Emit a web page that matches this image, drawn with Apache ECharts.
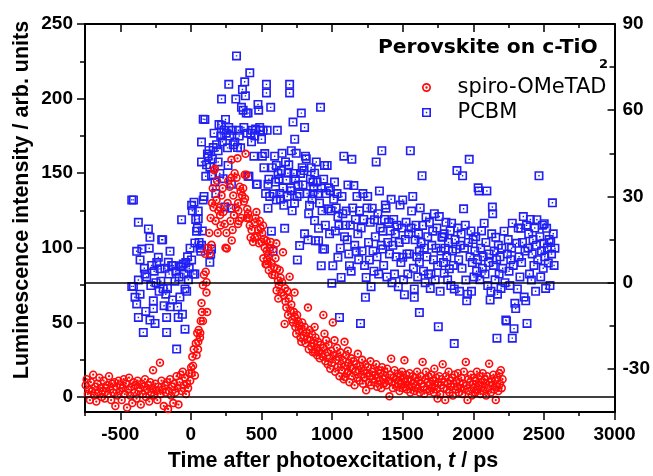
<!DOCTYPE html>
<html><head><meta charset="utf-8">
<script src="https://cdn.jsdelivr.net/npm/echarts@6/dist/echarts.min.js"></script>
<style>html,body{margin:0;padding:0;background:#fff}#c{width:653px;height:476px}</style>
</head><body><div id="c"></div>
<script>
// ---- data (x: ps, y: arb. units / right axis) ----
const xMajorTicks = [-500, 0, 500, 1000, 1500, 2000, 2500, 3000];
const xMinorTicks = [-750, -250, 250, 750, 1250, 1750, 2250, 2750];
const leftMajorTicks = [0, 50, 100, 150, 200, 250];
const leftMinorTicks = [25, 75, 125, 175, 225];
const rightMajorTicks = [-30, 0, 30, 60, 90];
const rightMinorTicks = [-15, 15, 45, 75];
const seriesNames = ['spiro-OMeTAD', 'PCBM'];

const spiroData = [
[-745,8],[-738,12],[-730,2],[-722,5],[-715,-2],[-708,10],[-700,4],[-692,15],[-685,1],[-678,7],[-670,-3],[-662,9],[-655,3],[-648,13],[-640,6],[-632,0],[-625,4],[-618,11],[-610,-1],[-602,6],[-595,8],[-588,2],[-580,14],[-572,5],[-565,-2],[-558,9],[-550,3],[-542,10],[-535,-6],[-528,7],[-520,1],[-512,11],[-505,4],[-498,8],[-490,-2],[-482,6],[-475,12],[-468,2],[-460,9],[-452,-7],[-445,5],[-438,13],[-430,1],[-422,7],[-415,-4],[-408,10],[-400,3],[-392,8],[-385,-1],[-378,11],[-370,4],[-362,6],[-355,-5],[-348,9],[-340,2],[-332,7],[-325,12],[-318,0],[-310,5],[-302,8],[-295,-3],[-288,10],[-280,3],[-272,6],[-268,18],[-260,1],[-252,9],[-245,4],[-238,-2],[-230,7],[-219,23],[-215,2],[-208,11],[-200,5],[-192,-6],[-185,8],[-178,3],[-170,10],[-162,-8],[-155,4],[-148,12],[-140,1],[-132,7],[-125,-4],[-118,9],[-110,3],[-102,14],[-95,6],[-88,-5],[-80,10],[-72,15],[-65,4],[-58,17],[-50,8],[-42,13],[-35,2],[-28,9],[-20,6],[-12,16],[-5,11],[2,20],[5,16],[10,27],[15,21],[20,32],[28,14.5],[35,36],[40,28],[45,43],[50,32],[52,37],[55,45],[64,40],[66,43],[70,51],[75,63],[78,57],[85,51],[85,75],[92,82],
[100,96],[105,84],[110,70],[111,77],[115,57],[120,100],[130,110],[134,96],[140,120],[146,102],[150,130],[155,140],[160,127],[165,152],[170,153],[175,118],[181,132],[185,145],[190,110],[195,125],[205,127],[207,122],[210,115],[217,135],[225,140],[230,124],[240,116],[245,100],[252,110],[254,99.5],[260,130],[265,145],[275,141],[280,118],[287,147],[289,105],[287,159],[295,112],[300,135],[305,122],[310,150],[318,127],[323,147],[330,160],[334,130],[336,125],[334,116],[340,118],[346,141],[352,138],[358,120],[363,135],[370,140],[375,131],[381,149],[383,133],[387,163],[393,149],[395,120],[399,126],[405,123],[411,120],[417,115],[423,107],[430,112],[440,104],[452,117],[454,107],[458,120],[464,124],[470,108],[476,112],[482,103],[488,118],[494,113],[500,104],[505,110],[511,115],[513,93],[517,106],[523,100],[529,89],[535,105],[537,98],[539,89],[541,92],[546,95],[552,85],[558,100],[564,104],[570,90],[576,82],[582,99],[588,87],[593,81.6],[599,93],[605,103],[607,71.5],[611,86],[617,78],[619,66],[623,75],[629,85],[635,80],[641,70],[646,77],[652,97],[658,68],[664,49],[666,73],[670,64],[676,60],[682,71],[688,55],[693,66],[699,80.7],[705,58],[711,62],[717,52],[723,50],[729,57],[734,70],[736,53.6],[740,47],[746,42.5],[752,55],[758,51],[764,45],[770,48],[776,40],[782,37],[788,50],[794,44],[800,41],[806,47],[812,36],[818,43],[824,39],[829,60],[835,32],[841,45],[847,38],[852,34],[858,42],[864,30],[870,36],[876,47],[878,30],[882,40],[888,33],[894,28],[900,37],[906,31],[912,26],[918,35],[929,29],[934,27],[938,55],[940,33],[946,42.5],
[952,24],[958,38],[964,30],[969,22],[975,35],[981,26],[987,19],[993,31],[999,23],[1005,50],[1010,28],[1017,38],[1022,17],[1028,25],[1034,33],[1040,20],[1046,27],[1052,14],[1058,30],[1064,22],[1070,18],[1076,25],[1082,12],[1088,37],[1090,13.4],[1094,21],[1100,28],[1106,16],[1111,31],[1113,17],[1117,23],[1123,10],[1129,20],[1135,26],[1141,14],[1147,19],[1153,24],[1159,8],[1165,17],[1171,22],[1177,13],[1182,29],[1188,18],[1194,11],[1200,21],[1206,15],[1212,25],[1218,9],[1224,18],[1230,13],[1236,22],[1241,4.5],[1247,16],[1253,20],[1259,10],[1265,14],[1271,24],[1277,8],[1283,17],[1289,12],[1295,19],[1300,10],[1306,15],[1312,22],[1318,7],[1324,13],[1330,18],[1336,11],[1342,16],[1348,6],[1354,20],[1360,12],[1366,9],[1372,17],[1378,14],[1384,8],[1390,19],[1396,11],[1406,0.5],[1412,15],[1418,25.7],[1424,10],[1430,6],[1436,13],[1442,18],[1448,9],[1454,12],[1460,7],[1465,15.7],[1471,11],[1477,4],[1483,14],[1489,9],[1495,17],[1501,6],[1507,12],[1512,24.6],[1514,6.7],[1518,10],[1524,15],[1530,5],[1536,12],[1542,8],[1548,16],[1554,3],[1560,11],[1566,7],[1572,14],[1578,9],[1584,4],[1590,13],[1596,8],[1602,17],[1608,6],[1614,11],[1620,3],[1626,14],[1632,9],[1641,23.5],[1647,7],[1653,2.3],[1659,12],[1665,17],[1671,5],[1677,10],[1683,14],[1689,4],[1695,9],[1701,15],[1707,6],[1713,11],[1719,3],[1724,19],[1730,8],[1736,13],[1742,5],[1747,-1],[1753,10],[1759,14],[1765,2],[1771,8],[1777,12],[1783,22],[1789,6],[1795,10],[1801,-2],[1807,14],[1813,5],[1819,9],[1825,17],[1831,3],[1837,11],[1843,7],[1849,13],[1855,1],[1861,9],[1867,15],[1873,5],[1879,11],[1885,7],[1891,16],[1897,3],[1903,10],[1909,6],[1915,13],[1921,2],[1927,9],[1933,17],[1939,5],[1947,23.5],[1953,8],[1959,-2],[1965,12],[1971,4],[1977,10],[1983,15],[1989,1],[1995,9],[2001,6],[2007,13],[2013,3],[2019,11],[2025,17],[2031,5],[2037,8],[2043,14],[2049,2],[2055,10],[2061,7],[2067,16],[2073,4],[2079,12],[2085,9],[2091,1],[2097,14],[2103,6],[2112,22.4],[2118,10],[2124,3],[2130,12],[2136,8],[2142,15],[2148,5],[2154,11],[2159,-2],[2165,7],[2171,13],[2177,4],[2183,16],[2189,9],[2195,18],[2201,6],[2207,12]
];

const pcbmData = [
[-419,28.8],[-407,28.8],[-419,-1.3],[-407,-1.3],[-396,-5.1],[-384,-7.4],[-384,10.9],[-372,21],[-372,0.9],[-372,-12.1],[-360,7.9],[-360,-4],[-348,11.7],[-337,-17.3],[-330,5],[-325,3],[-320,-10],[-313,2],[-301,18.7],[-295,12],[-290,15.8],[-290,-13],[-284,-1],[-278,6],[-266,-6.3],[-266,-9],[-260,4],[-254,-14.2],[-248,0],[-242,7],[-231,8.8],[-225,-3],[-219,4.8],[-213,0.5],[-207,14.9],[-200,14.9],[-196,-2.2],[-190,-8],[-184,5],[-178,-4],[-172,-12.1],[-172,-17.3],[-166,-2],[-160,7.1],[-154,3],[-148,10.9],[-148,-8.4],[-136,6],[-130,-6],[-125,5.9],[-113,0.5],[-107,4],[-101,-23.1],[-95,-8.4],[-90,-12.1],[-84,2],[-78,-5],[-72,5.5],[-66,5.9],[-66,21.9],[-60,-11],[-54,6.5],[-48,3],[-42,-2.2],[-42,-16.2],[-36,7],[-30,-3],[-24,9],[-18,1],[-12,5],[-6,12],[5,7.9],[5,26.9],[10,25],[16,3],[22,28],[28,3],[28,13.8],[34,22],[40,17.9],[46,19],[52,24.9],[52,22.2],[58,14],[64,12],[70,10.9],[75,48.9],[75,42],[75,13],[81,18],[87,56.9],[87,28.8],[93,30],[99,56.8],[105,37],[111,41],[117,44.8],[122,44],[128,46],[134,40.2],[134,7.1],[140,10],[146,37.3],[146,11.7],[152,43],[158,47],[164,52],[170,35],[176,31],[182,48],[193,45.9],[193,42],[199,55],[205,38],[211,51],[217,63.9],[217,54.8],[223,49],[228,36.2],[234,53],[240,26.3],[245,56.8],[251,52],[259,46.9],[263,40.8],[268,69],[268,54],[275,51],[283,25.9],[287,34.2],[293,53],[300,48],[311,48.9],[318,63.9],[323,78.9],[330,47],[336,53],[342,51],[352,46.9],[358,61],[365,67.2],[370,60],[375,54],[381,69.9],[386,65],[392,59],[399,52],[405,59],[405,37],[411,37],[417,73],[423,52],[429,49],[435,53],[446,44],[452,51],[458,53.5],[464,34.2],[470,34.2],[475,62],[480,60],[487,54],[493,53],[500,49.9],[506,44],[511,53],[517,40],[523,44.9],[529,31],[535,69],[535,66],[540,53],[546,34.2],[546,25.9],[552,36],[558,30],[565,61],[570,17.9],[576,40],[582,10.9],[588,30.9],[593,44],[599,35],[605,40.8],[605,28.8],[612,53],[617,38],[623,36],[629,31],[635,29],[641,39],[646,45],[652,33],[658,26.9],[664,18.9],[670,42],[676,35.8],[682,30],[687,38.1],[693,41],[699,69],[699,66],[705,33],[711,45.9],[711,32],[717,25],[723,55.9],[729,38],[735,49.9],[734,27.7],[740,36],[746,45],[752,30],[754,7.9],[760,34],[770,30.9],[770,12.9],[776,38],[782,59],[788,40],[794,34],[800,39],[805,54],[805,17],[811,44],[817,43.1],[823,31],[829,14.9],[834,24],[840,26.9],[846,36],[852,40],[858,29],[864,35],[864,30.9],[870,33],[876,38.1],[876,21.6],[882,14.6],[888,42],[894,35],[900,31],[904,18.9],[904,14.6],[911,27.7],[918,61],[923,32.9],[923,5.9],[929,25],[934,11.7],[940,36],[946,40.8],[946,11.7],[952,20],[958,31],[965,40.8],[970,25.7],[976,33],[982,17],[988,32],[993,25],[998,-0.2],[1005,5.9],[1011,29],[1017,35],[1023,18],[1029,26],[1035,31],[1041,23],[1041,8.8],[1048,19.9],[1052,-12.1],[1058,12],[1064,1.8],[1070,30],[1076,24],[1083,44],[1088,16],[1094,20],[1100,24.9],[1107,14.9],[1112,34],[1118,10],[1123,5.9],[1129,20],[1135,4],[1140,42.9],[1146,26],[1154,33.8],[1160,13],[1165,22],[1171,10.9],[1176,30],[1182,17],[1188,8],[1194,25],[1201,-14.2],[1206,19],[1212,11],[1218,31],[1224,22],[1230,6],[1236,-5.1],[1241,1.8],[1247,26],[1252,30],[1258,14],[1264,7.9],[1270,21],[1276,-1.4],[1284,25.9],[1290,11],[1296,4],[1300,21.9],[1306,16],[1312,42],[1318,9],[1324,24],[1330,3],[1335,31.9],[1341,19],[1348,13],[1352,45.9],[1359,17.9],[1359,11.7],[1365,6],[1371,22],[1377,27],[1382,25.9],[1388,2],[1394,14],[1400,21],[1406,10],[1412,18],[1418,29],[1424,0],[1430,13],[1436,22],[1442,3],[1448,17],[1454,9],[1460,20],[1469,-1.4],[1475,14],[1481,27],[1487,7],[1494,19],[1500,28.8],[1500,8.8],[1506,1],[1512,-4.2],[1518,15],[1524,21],[1530,10],[1536,3],[1542,17],[1547,10],[1554,45.9],[1559,19],[1563,24.9],[1571,30],[1576,5],[1582,-2.2],[1582,-5.1],[1588,14.9],[1594,20],[1600,9],[1606,2],[1612,17],[1618,10.9],[1618,7.1],[1618,-10.4],[1624,26],[1630,14],[1637,37.2],[1641,19.9],[1647,4],[1653,12],[1659,0],[1665,22.8],[1671,9],[1677,16],[1683,3],[1689,21],[1695,-2],[1700,3],[1706,13],[1712,17.9],[1718,8],[1724,24],[1730,1],[1736,12],[1742,19],[1747,6],[1752,-15.3],[1759,23],[1765,-3],[1771,11],[1777,16],[1783,15.8],[1789,7],[1794,17],[1794,3.3],[1800,12],[1806,21],[1812,9],[1818,1],[1824,14],[1830,4.8],[1836,18],[1841,-1],[1846,20.7],[1852,11],[1858,6],[1865,-2.2],[1865,-21.2],[1871,15],[1877,11.7],[1884,39],[1890,19],[1896,8],[1902,-3],[1908,13],[1914,17],[1920,5],[1924,37.2],[1931,25.7],[1937,12],[1943,20],[1947,0.9],[1953,-6.3],[1959,-4],[1965,14],[1971,42.9],[1977,9],[1983,18],[1987,-3],[1993,7],[1999,15],[2005,2],[2011,11],[2017,16],[2023,4],[2029,8],[2034,33],[2040,31.9],[2046,1],[2052,12],[2058,18],[2064,5],[2070,9],[2077,20.7],[2083,3],[2089,14],[2096,31.9],[2102,-1],[2108,7],[2112,10],[2119,-6],[2125,-3],[2130,17],[2135,26.3],[2137,24],[2142,6],[2148,11],[2154,1],[2159,15.8],[2165,8],[2167,-19.3],[2171,-4],[2177,13],[2183,3],[2189,9],[2196,-2],[2202,12],[2208,5],[2218,17.9],[2224,0],[2230,-13],[2235,-13.3],[2241,10],[2247,15],[2253,4],[2259,-1],[2265,8],[2271,12],[2276,20.7],[2276,-19.3],[2283,6],[2288,-16],[2294,-7.2],[2300,-9],[2307,13.7],[2312,-2.2],[2318,19],[2324,9],[2330,2],[2336,18.9],[2342,7],[2348,14],[2354,23],[2360,-5],[2366,11],[2371,-6.3],[2377,20],[2380,-14.2],[2386,12],[2392,17],[2398,3],[2404,22],[2411,0.9],[2417,10],[2423,15],[2429,6],[2435,19],[2441,-3],[2447,13],[2450,21.9],[2456,8],[2465,37.2],[2471,16],[2477,2],[2483,11],[2489,20],[2495,5],[2500,13.7],[2502,20.5],[2506,9],[2512,-2],[2519,18.9],[2525,12],[2531,6.8],[2537,15],[2543,-1],[2548,14],[2554,10],[2560,27.8],[2566,17],[2572,6],[2578,12]
];

// ---- styling ----
const RED = '#ff0a0a', BLUE = '#2020f5', BLACK = '#000';
const circleSym = 'path://M10,0A10,10,0,1,1,-10,0A10,10,0,1,1,10,0Z M6.2,0A6.2,6.2,0,1,0,-6.2,0A6.2,6.2,0,1,0,6.2,0Z M2.7,0A2.7,2.7,0,1,1,-2.7,0A2.7,2.7,0,1,1,2.7,0Z';
const squareSym = 'path://M0,0H20V20H0Z M3.6,3.6V16.4H16.4V3.6Z M8.4,8.4H11.6V11.6H8.4Z';
const LBL = {fontFamily: 'Liberation Sans', fontWeight: 'bold', fontSize: 19, color: BLACK, formatter: function (v) { return String(v); }};
const X_MIN = -750, X_MAX = 3000, YL_MIN = -10, YL_MAX = 250, YR_MIN = -45, YR_MAX = 90;

function xAx(pos, ticks, len, inside, showLine, labels) {
  return {type: 'value', position: pos, min: X_MIN, max: X_MAX,
    axisLine: {show: showLine, onZero: false, lineStyle: {color: BLACK, width: 2}},
    axisTick: {show: true, customValues: ticks, length: len, inside: inside, lineStyle: {color: BLACK, width: 1.5}},
    axisLabel: labels ? Object.assign({show: true, customValues: ticks, margin: 13}, LBL) : {show: false},
    splitLine: {show: false}};
}
function yAx(pos, mn, mx, ticks, len, inside, showLine, labels, margin) {
  return {type: 'value', position: pos, min: mn, max: mx,
    axisLine: {show: showLine, onZero: false, lineStyle: {color: BLACK, width: 2}},
    axisTick: {show: true, customValues: ticks, length: len, inside: inside, lineStyle: {color: BLACK, width: 1.5}},
    axisLabel: labels ? Object.assign({show: true, customValues: ticks, margin: margin}, LBL) : {show: false},
    splitLine: {show: false}};
}

const chart = echarts.init(document.getElementById('c'), null, {renderer: 'canvas'});
chart.setOption({
  animation: false,
  backgroundColor: '#fff',
  grid: {left: 85, right: 36, top: 24, bottom: 64, containLabel: false},
  xAxis: [
    xAx('bottom', xMajorTicks, 8, false, true, true),
    xAx('bottom', xMinorTicks, 4, false, false, false),
    xAx('top', xMajorTicks, 8, true, true, false),
    xAx('top', xMinorTicks, 4, true, false, false)
  ],
  yAxis: [
    yAx('left', YL_MIN, YL_MAX, leftMajorTicks, 8, false, true, true, 12),
    yAx('left', YL_MIN, YL_MAX, leftMinorTicks, 5, false, false, false, 0),
    yAx('right', YR_MIN, YR_MAX, rightMajorTicks, 7, true, true, true, 8),
    yAx('right', YR_MIN, YR_MAX, rightMinorTicks, 5, true, false, false, 0)
  ],
  legend: {
    orient: 'vertical', left: 422, top: 77, padding: 0, itemWidth: 10, itemHeight: 9, itemGap: 4,
    symbolKeepAspect: true,
    textStyle: {fontFamily: 'DejaVu Sans', fontSize: 21, color: BLACK, padding: [0, 0, 0, 21]},
    data: seriesNames
  },
  series: [
    {name: seriesNames[0], type: 'scatter', xAxisIndex: 0, yAxisIndex: 0, data: spiroData,
     symbol: circleSym, symbolSize: 8.5, itemStyle: {color: RED, opacity: 1}, z: 3,
     markLine: {silent: true, symbol: 'none', label: {show: false}, lineStyle: {color: BLACK, width: 1.5, type: 'solid'}, data: [{yAxis: 0}]}},
    {name: seriesNames[1], type: 'scatter', xAxisIndex: 0, yAxisIndex: 2, data: pcbmData,
     symbol: squareSym, symbolSize: 9, itemStyle: {color: BLUE, opacity: 1}, z: 2,
     markLine: {silent: true, symbol: 'none', label: {show: false}, lineStyle: {color: BLACK, width: 1.5, type: 'solid'}, data: [{yAxis: 0}]}}
  ],
  graphic: [
    {type: 'text', left: 378, top: 38, style: {text: 'Perovskite on c-TiO', fontFamily: 'DejaVu Sans', fontWeight: 'bold', fontSize: 20.3, fill: BLACK}},
    {type: 'text', left: 599, top: 58, style: {text: '2', fontFamily: 'DejaVu Sans', fontWeight: 'bold', fontSize: 13, fill: BLACK}},
    {type: 'text', x: 333, y: 461, style: {
      text: '{b|Time after photoexcitation, }{i|t}{b| / ps}', align: 'center', verticalAlign: 'middle',
      rich: {b: {fontFamily: 'Liberation Sans', fontWeight: 'bold', fontSize: 21.5, fill: BLACK},
             i: {fontFamily: 'Liberation Sans', fontWeight: 'bold', fontStyle: 'italic', fontSize: 21.5, fill: BLACK}}}},
    {type: 'text', x: 22, y: 200, rotation: Math.PI / 2, style: {
      text: 'Luminescence intensity / arb. units', align: 'center', verticalAlign: 'middle',
      fontFamily: 'Liberation Sans', fontWeight: 'bold', fontSize: 21.5, fill: BLACK}}
  ]
});
</script></body></html>
